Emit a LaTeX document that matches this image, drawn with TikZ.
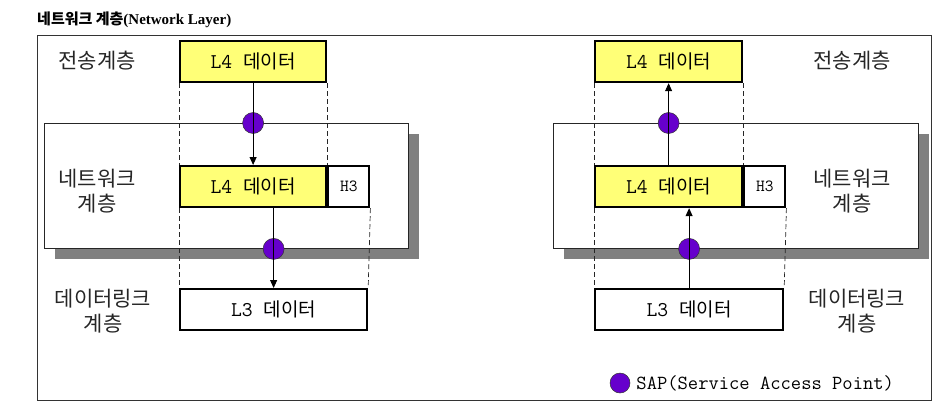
\documentclass[tikz,border=0pt]{standalone}
\usepackage{fontspec}
\setmainfont{Liberation Serif}
\newfontfamily\kr{Noto Sans CJK KR}
\usetikzlibrary{arrows.meta,shadows}

\definecolor{datayellow}{HTML}{FFFF77}
\definecolor{sappurple}{HTML}{6600CC}
\definecolor{shadowgray}{HTML}{808080}

\newcommand{\datatxt}[1]{{\ttfamily\fontsize{21}{21}\selectfont #1~}{\kr 데이터}}

\tikzset{
  datbox/.style={draw, line width=2.2pt, fill=datayellow, inner sep=0pt,
    minimum height=41pt, anchor=north west, font=\fontsize{19}{19}\selectfont},
  hdrbox/.style={datbox, fill=white, font=\ttfamily\fontsize{17}{17}\selectfont},
  netbox/.style={draw=black!85, line width=0.9pt, fill=white, inner sep=0pt,
    anchor=north west, minimum height=125pt,
    drop shadow={shadow xshift=11pt, shadow yshift=-11pt, fill=shadowgray, opacity=1}},
  sap/.style={circle, draw=black!80, line width=0.5pt, fill=sappurple,
    minimum size=21pt, inner sep=0pt},
  guide/.style={line width=0.7pt, dash pattern=on 5pt off 3pt, black!85},
  flow/.style={line width=0.9pt, -{Triangle[length=8pt,width=7pt]}},
  layer/.style={font=\kr\fontsize{21}{25}\selectfont, align=center, text=black!85}
}

\begin{document}
\begin{tikzpicture}[x=1pt,y=-1pt]
  \useasboundingbox (0,0) rectangle (941,408);

  % Title
  \node[anchor=west, inner sep=0pt, font=\fontsize{15}{15}\selectfont] (title) at (37,20)
    {{\kr\bfseries 네트워크 계층}\textbf{(Network Layer)}};

  % Outer frame
  \draw[line width=1pt, black!80] (37,35) rectangle (931,400);

  % Left: sending side
  \node[netbox, minimum width=364pt] (lnet) at (44,123) {};
  \node[datbox, minimum width=146pt] (ltop) at (179,40) {\datatxt{L4}};
  \node[datbox, minimum width=146pt] (lmid) at (179,165) {\datatxt{L4}};
  \node[hdrbox, minimum width=41pt] (lhdr) at (lmid.north east) {H3};
  \node[datbox, fill=white, minimum width=187pt] (lbot) at (179,288) {\datatxt{L3}};

  \node[layer] (ltrans) at (97,61) {전송계층};
  \node[layer] (lnetlab) at (97,191) {네트워크\\계층};
  \node[layer] (llink) at (103,311) {데이터링크\\계층};

  % Left: guide lines
  \draw[guide] (ltop.south west) -- (lmid.north west);
  \draw[guide] (ltop.south east) -- (lmid.north east);
  \draw[guide] (lmid.south west) -- (lbot.north west);
  \draw[guide] (lhdr.south east) -- (lbot.north east);

  % Left: SAPs and flow
  \node[sap] (lsapa) at (ltop.south |- lnet.north) {};
  \node[sap] (lsapb) at (lbot.north |- lnet.south) {};
  \draw[flow] (ltop.south) -- (lmid.north);
  \draw[flow] (lbot.north |- lmid.south) -- (lbot.north);

  % Right: receiving side
  \node[netbox, minimum width=365pt] (rnet) at (553,123) {};
  \node[datbox, minimum width=147pt] (rtop) at (594,40) {\datatxt{L4}};
  \node[datbox, minimum width=147pt] (rmid) at (594,165) {\datatxt{L4}};
  \node[hdrbox, minimum width=41pt] (rhdr) at (rmid.north east) {H3};
  \node[datbox, fill=white, minimum width=188pt] (rbot) at (594,288) {\datatxt{L3}};

  \node[layer] (rtrans) at (852,61) {전송계층};
  \node[layer] (rnetlab) at (852,191) {네트워크\\계층};
  \node[layer] (rlink) at (857,311) {데이터링크\\계층};

  % Right: guide lines
  \draw[guide] (rtop.south west) -- (rmid.north west);
  \draw[guide] (rtop.south east) -- (rmid.north east);
  \draw[guide] (rmid.south west) -- (rbot.north west);
  \draw[guide] (rhdr.south east) -- (rbot.north east);

  % Right: SAPs and flow
  \node[sap] (rsapa) at (rtop.south |- rnet.north) {};
  \node[sap] (rsapb) at (rbot.north |- rnet.south) {};
  \draw[flow] (rmid.north) -- (rtop.south);
  \draw[flow] (rbot.north) -- (rbot.north |- rmid.south);

  % Legend
  \node[sap, minimum size=20pt] (keysap) at (620,383) {};
  \node[anchor=west, inner sep=2pt, font=\ttfamily\fontsize{20}{20}\selectfont] (keytxt)
    at ([xshift=4pt]keysap.east) {SAP(Service Access Point)};
\end{tikzpicture}
\end{document}
